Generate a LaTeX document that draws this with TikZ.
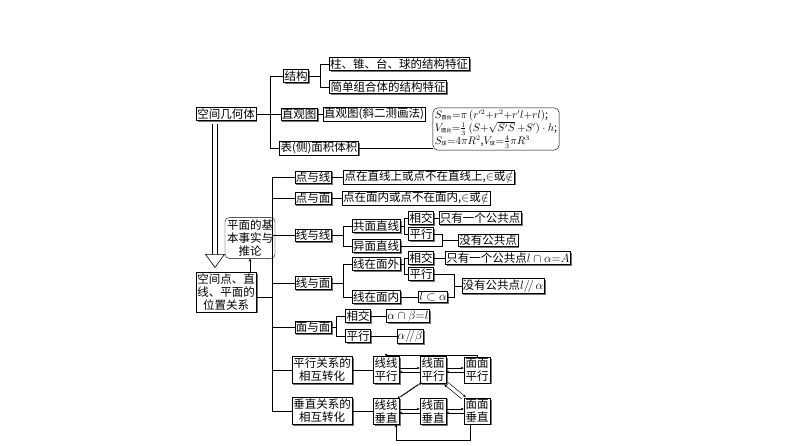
\documentclass[tikz,border=0pt]{standalone}
\usepackage{amsmath}
\usepackage{fontspec}
\setmainfont{Noto Sans CJK SC}
\usepackage{tikz}
\usetikzlibrary{arrows.meta, positioning, calc, shadows}
\tikzset{
  box/.style={draw,fill=white,inner sep=1pt,font=\fontsize{11.5}{13}\selectfont,
    drop shadow={shadow xshift=1.5pt,shadow yshift=-1.5pt,fill=black!55,opacity=1}},
  tbox/.style={box,align=center,inner sep=1.5pt,font=\fontsize{11.5}{13}\selectfont},
  lnk/.style={line width=0.5pt},
  arr/.style={lnk,-{Stealth[length=3pt,width=2.5pt]}}
}
\begin{document}
\begin{tikzpicture}[x=1pt,y=-1pt]
\useasboundingbox (0,0) rectangle (794,446);

% Spatial solids
\node[box] (solid) at (226,114) {空间几何体};
\node[box] (struct) at (296,76) {结构};
\node[box] (s1) at (399,64) {柱、锥、台、球的结构特征};
\node[box] (s2) at (388,87) {简单组合体的结构特征};
\node[box] (intu) at (299,114) {直观图};
\node[box] (intu1) at (374,114) {直观图(斜二测画法)};
\node[box] (area) at (319,148) {表(侧)面积体积};
\node[draw,rounded corners=5pt,fill=white,inner sep=2pt,align=left,font=\fontsize{10.5}{13}\selectfont] (form) at (496,129)
  {$S_{\text{\tiny 圆台}}{=}\pi\,(r'^2{+}r^2{+}r'l{+}rl)$;\\
   $V_{\text{\tiny 圆台}}{=}\frac13\,(S{+}\sqrt{S'S}\,{+}S')\cdot h$;\\
   $S_{\text{\tiny 球}}{=}4\pi R^2$,$V_{\text{\tiny 球}}{=}\frac43\pi R^3$};

\draw[lnk] (solid.east) -- (270,114);
\draw[lnk] (struct.west) -| (270,148) -- (area.west);
\draw[lnk] (intu.west) -- (270,114);
\draw[lnk] (intu.east) -- (intu1.west);
\draw[lnk] (area.east) -- (area.east -| form.west);
\draw[lnk] (struct.east) -- (320,76);
\draw[lnk] (s1.west) -| (320,87) -- (s2.west);

% Double arrow down
\draw[double distance=4pt,line width=0.6pt,-{Triangle[open,length=14pt,width=20pt]}] (215,124) -- (215,268);

% Points, lines, planes
\node[tbox] (rel) at (226,292) {空间点、直\\线、平面的\\位置关系};
\node[draw,rounded corners=4pt,align=center,inner sep=2pt,font=\fontsize{11.5}{13}\selectfont] (axiom) at (250,238) {平面的基\\本事实与\\推论};
\draw[arr] (rel.north -| axiom) -- (axiom.south);
\draw[lnk] (rel.east |- 0,297) -- (272,297);
\draw[lnk] (272,177) -- (272,411);

\node[box] (pl) at (313,177) {点与线};
\node[box] (pl1) at (429,177) {点在直线上或点不在直线上,$\in$或$\notin$};
\node[box] (pp) at (313,198) {点与面};
\node[box] (pp1) at (416,198) {点在面内或点不在面内,$\in$或$\notin$};
\node[box] (ll) at (313,235) {线与线};
\node[box] (cop) at (376,226) {共面直线};
\node[box] (skew) at (376,246) {异面直线};
\node[box] (llx) at (421,218) {相交};
\node[box] (llp) at (421,234) {平行};
\node[box] (one1) at (480,218) {只有一个公共点};
\node[box] (none1) at (488,240) {没有公共点};
\node[box] (lp) at (313,283) {线与面};
\node[box] (out) at (376,264) {线在面外};
\node[box] (in) at (376,297) {线在面内};
\node[box] (lpx) at (421,258) {相交};
\node[box] (lpp) at (421,274) {平行};
\node[box] (one2) at (508,258) {只有一个公共点$l\cap\alpha{=}A$};
\node[box] (lin) at (433,297) {$l\subset\alpha$};
\node[box] (none2) at (503,286) {没有公共点$l/\!/\,\alpha$};
\node[box] (ff) at (313,327) {面与面};
\node[box] (ffx) at (358,316) {相交};
\node[box] (ffp) at (358,336) {平行};
\node[box] (ffx1) at (408,316) {$\alpha\cap\beta{=}l$};
\node[box] (ffp1) at (410,336) {$\alpha/\!/\beta$};

\foreach \n in {pl,pp,ll,lp,ff} \draw[lnk] (272,0 |- \n.west) -- (\n.west);
\draw[lnk] (pl.east) -- (pl1.west);
\draw[lnk] (pp.east) -- (pp1.west);
\draw[lnk] (ll.east) -- (343,235);
\draw[lnk] (cop.west) -| (343,246) -- (skew.west);
\draw[lnk] (cop.east) -- (404,226);
\draw[lnk] (llx.west) -| (404,234) -- (llp.west);
\draw[lnk] (llx.east) -- (one1.west);
\draw[lnk] (llp.east) -- (442,234) |- (none1.west);
\draw[lnk] (skew.east) -| (442,240);
\draw[lnk] (lp.east) -- (343,283);
\draw[lnk] (out.west) -| (343,297) -- (in.west);
\draw[lnk] (out.east) -- (404,264);
\draw[lnk] (lpx.west) -| (404,274) -- (lpp.west);
\draw[lnk] (lpx.east) -- (one2.west);
\draw[lnk] (lpp.east) -- (454,274) |- (none2.west);
\draw[lnk] (lin.east) -| (454,286);
\draw[lnk] (in.east) -- (lin.west);
\draw[lnk] (ff.east) -- (336,327);
\draw[lnk] (ffx.west) -| (336,336) -- (ffp.west);
\draw[lnk] (ffx.east) -- (ffx1.west);
\draw[lnk] (ffp.east) -- (ffp1.west);

% Conversions
\node[tbox] (par) at (322,370) {平行关系的\\相互转化};
\node[tbox] (llpar) at (386,370) {线线\\平行};
\node[tbox] (lfpar) at (433,370) {线面\\平行};
\node[tbox] (ffpar) at (477,370) {面面\\平行};
\node[tbox] (per) at (322,411) {垂直关系的\\相互转化};
\node[tbox] (llper) at (386,411) {线线\\垂直};
\node[tbox] (lfper) at (433,411) {线面\\垂直};
\node[tbox] (ffper) at (477,411) {面面\\垂直};
\draw[lnk] (272,0 |- par.west) -- (par.west);
\draw[lnk] (272,0 |- per.west) -- (per.west);
\draw[lnk] (par.east) -- (llpar.west);
\draw[lnk] (per.east) -- (llper.west);
\foreach \a/\b in {llpar/lfpar,lfpar/ffpar,llper/lfper,lfper/ffper}{
  \draw[arr] ([yshift=2pt]\a.east) -- ([yshift=2pt]\b.west);
  \draw[arr] ([yshift=-2pt]\b.west) -- ([yshift=-2pt]\a.east);
}
\draw[arr] ([xshift=-2pt,yshift=-1pt]lfpar.south west) -- ([xshift=-2pt,yshift=-1pt]llper.north east);
\draw[arr] ([xshift=2pt,yshift=1pt]llper.north east) -- ([xshift=2pt,yshift=1pt]lfpar.south west);
\draw[arr] ([xshift=-2pt,yshift=-1pt]ffper.north west) -- ([xshift=-2pt,yshift=-1pt]lfpar.south east);
\draw[arr] ([xshift=2pt,yshift=1pt]lfpar.south east) -- ([xshift=2pt,yshift=1pt]ffper.north west);
\draw[arr] (ffpar.north) |- (llpar.north |- 0,355) -- (llpar.north);
\draw[arr] (ffper.south -| 470,0) |- (396,440) -- (llper.south -| 396,0);
\end{tikzpicture}
\end{document}
